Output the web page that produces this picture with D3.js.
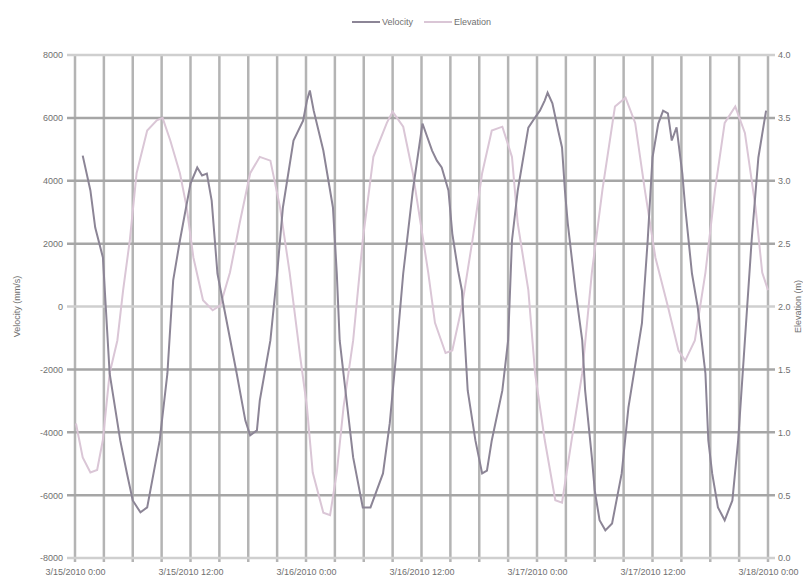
<!DOCTYPE html>
<html lang="en">
<head>
<meta charset="UTF-8">
<title>Velocity and elevation</title>
<script src="https://cdn.jsdelivr.net/npm/d3@7"></script>
<style>
  body { margin: 0; background: #fff; }
  text { font-family: "Liberation Sans", Arial, sans-serif; fill: #707070; }
</style>
</head>
<body>
<script>

// hours since start, one array per series
var velHours = [0.8, 1.6, 2.1, 2.9, 3.2, 3.6, 4.7, 5.4, 6.0, 6.8, 7.5, 8.8, 9.6, 10.2, 10.9, 12.0, 12.7, 13.2, 13.7, 14.2,
    14.8, 15.8, 16.8, 17.7, 18.2, 18.9, 19.2, 20.3, 21.0, 21.6, 22.7, 23.7, 24.1, 24.4, 24.8, 25.8, 26.8, 27.2, 27.5, 28.3,
    28.9, 29.9, 30.7, 32.0, 32.7, 33.5, 34.1, 35.1, 36.1, 37.1, 37.6, 38.1, 38.8, 39.2, 39.8, 40.2, 40.5, 40.8, 41.6, 42.3,
    42.8, 43.3, 44.4, 45.0, 45.4, 46.0, 47.1, 47.8, 48.3, 48.8, 49.1, 49.6, 50.2, 50.6, 50.9, 51.2, 52.0, 52.7, 53.0, 53.7,
    54.0, 54.5, 55.1, 55.8, 56.8, 57.5, 58.9, 59.5, 60.0, 60.6, 61.1, 61.6, 62.0, 62.5, 63.1, 63.4, 64.1, 64.7, 65.5, 65.8,
    66.2, 66.8, 67.5, 68.3, 68.9, 69.6, 70.3, 71.0, 71.8];
var velocity = [4800, 3690, 2510, 1560, -30, -2130, -4260, -5310, -6170, -6550, -6390, -4260, -2130, 830, 2100, 3910, 4420, 4170, 4230, 3370,
    1050, -540, -2130, -3630, -4100, -3940, -2990, -1080, 1050, 3150, 5280, 5910, 6550, 6870, 6230, 4960, 3150, 1050, -1080, -3210,
    -4800, -6390, -6390, -5310, -3720, -1080, 1050, 3690, 5820, 4960, 4640, 4420, 3690, 2320, 1140, 510, -1080, -2670, -4260, -5310,
    -5220, -4260, -2670, -1080, 2100, 3690, 5690, 6010, 6230, 6550, 6800, 6460, 5600, 5060, 3690, 2640, 510, -1080, -2670, -4800,
    -5850, -6800, -7120, -6900, -5310, -3210, -540, 2100, 4740, 5820, 6230, 6140, 5280, 5700, 4230, 3150, 1050, -30, -2130, -4260,
    -5310, -6390, -6800, -6170, -4260, -1080, 2100, 4740, 6230];

var elevHours = [0.1, 0.8, 1.6, 2.3, 2.9, 3.6, 4.4, 5.0, 5.7, 6.4, 7.5, 8.5, 9.1, 9.9, 10.9, 11.6, 12.3, 13.3, 14.3, 15.1,
    16.1, 17.1, 18.2, 19.2, 20.3, 21.3, 22.3, 23.4, 24.1, 24.7, 25.8, 26.5, 27.2, 27.9, 28.9, 29.9, 31.0, 32.4, 33.0, 34.1,
    35.1, 36.7, 37.4, 38.5, 39.2, 40.2, 41.3, 42.3, 43.3, 44.4, 45.4, 46.0, 47.1, 47.8, 48.8, 49.9, 50.6, 51.6, 52.7, 53.7,
    54.8, 56.1, 57.2, 58.2, 59.2, 60.3, 61.6, 62.7, 63.4, 64.4, 65.5, 66.5, 67.5, 68.6, 69.6, 70.7, 71.4, 72.0];
var elevation = [1.07, 0.80, 0.68, 0.70, 0.94, 1.47, 1.73, 2.13, 2.53, 3.06, 3.40, 3.48, 3.50, 3.32, 3.06, 2.79, 2.39, 2.05, 1.97, 2.01,
    2.27, 2.66, 3.06, 3.19, 3.16, 2.79, 2.27, 1.60, 1.20, 0.68, 0.36, 0.34, 0.68, 1.20, 1.73, 2.53, 3.19, 3.46, 3.55, 3.43,
    3.06, 2.27, 1.87, 1.63, 1.65, 2.00, 2.53, 3.06, 3.40, 3.43, 3.19, 2.66, 2.13, 1.47, 0.94, 0.46, 0.44, 0.94, 1.47, 2.27,
    2.93, 3.59, 3.66, 3.46, 2.93, 2.39, 2.00, 1.65, 1.57, 1.73, 2.27, 2.93, 3.46, 3.59, 3.38, 2.79, 2.27, 2.13];

var seriesNames = ["Velocity", "Elevation"];
var xTickHours = [0, 12, 24, 36, 48, 60, 72];
var xTickLabels = ["3/15/2010 0:00", "3/15/2010 12:00", "3/16/2010 0:00", "3/16/2010 12:00",
    "3/17/2010 0:00", "3/17/2010 12:00", "3/18/2010 0:00"];
var leftTicks = [-8000, -6000, -4000, -2000, 0, 2000, 4000, 6000, 8000];
var rightTicks = [0, 0.5, 1, 1.5, 2, 2.5, 3, 3.5, 4];

var w = 803, h = 578;
var plotLeft = 75, plotRight = 768, plotTop = 55, plotBottom = 558;

var svg = d3.select("body").append("svg").attr("width", w).attr("height", h);

var x = d3.scaleLinear().domain([0, 72]).range([plotLeft, plotRight]);
var yL = d3.scaleLinear().domain([-8000, 8000]).range([plotBottom, plotTop]);
var yR = d3.scaleLinear().domain([0, 4]).range([plotBottom, plotTop]);

// grid, vertical every 3 hours
svg.append("g").selectAll("line")
    .data(d3.range(0, 73, 3))
    .enter().append("line")
    .attr("x1", function(d) { return x(d); })
    .attr("x2", function(d) { return x(d); })
    .attr("y1", plotTop).attr("y2", plotBottom + 4)
    .attr("stroke", "#b4b4b4").attr("stroke-width", 2.5);

svg.append("g").selectAll("line")
    .data(leftTicks)
    .enter().append("line")
    .attr("x1", plotLeft - 8).attr("x2", plotRight + 7)
    .attr("y1", function(d) { return yL(d); })
    .attr("y2", function(d) { return yL(d); })
    .attr("stroke", function(d) { return (d == 0 || d == 8000 || d == -8000) ? "#cfcfcf" : "#a6a6a6"; })
    .attr("stroke-width", 2.5);

// series
var lineVel = d3.line()
    .x(function(d, i) { return x(velHours[i]); })
    .y(function(d) { return yL(d); });
var lineElev = d3.line()
    .x(function(d, i) { return x(elevHours[i]); })
    .y(function(d) { return yR(d); });

svg.append("path").datum(elevation)
    .attr("d", lineElev)
    .attr("fill", "none").attr("stroke", "#dac6d6").attr("stroke-width", 2);

svg.append("path").datum(velocity)
    .attr("d", lineVel)
    .attr("fill", "none").attr("stroke", "#8c8596").attr("stroke-width", 2);

// axes
var axL = svg.append("g").attr("transform", "translate(" + plotLeft + ",0)")
    .call(d3.axisLeft(yL).tickValues(leftTicks).tickSize(0).tickPadding(12).tickFormat(function(d) { return String(d); }));
var axR = svg.append("g").attr("transform", "translate(" + plotRight + ",0)")
    .call(d3.axisRight(yR).tickValues(rightTicks).tickSize(0).tickPadding(10).tickFormat(function(d) { return d.toFixed(1); }));
var axB = svg.append("g").attr("transform", "translate(0," + plotBottom + ")")
    .call(d3.axisBottom(x).tickValues(xTickHours).tickSize(0).tickPadding(11)
        .tickFormat(function(d, i) { return xTickLabels[i]; }));

[axL, axR, axB].forEach(function(a) {
    a.select(".domain").remove();
    a.selectAll("text").attr("font-size", "9px").attr("fill", "#707070")
        .style("font-family", "Liberation Sans, Arial, sans-serif");
});

// axis titles
svg.append("text")
    .attr("transform", "translate(20," + yL(0) + ") rotate(-90)")
    .attr("text-anchor", "middle").attr("font-size", "9px")
    .text("Velocity (mm/s)");
svg.append("text")
    .attr("transform", "translate(801," + yL(0) + ") rotate(-90)")
    .attr("text-anchor", "middle").attr("font-size", "9px")
    .text("Elevation (m)");

// legend
var legend = svg.append("g").attr("transform", "translate(352,22)");
var legendColors = ["#8c8596", "#dac6d6"];
seriesNames.forEach(function(name, i) {
    var g = legend.append("g").attr("transform", "translate(" + (i * 72) + ",0)");
    g.append("line").attr("x1", 0).attr("x2", 28).attr("y1", 0).attr("y2", 0)
        .attr("stroke", legendColors[i]).attr("stroke-width", 2);
    g.append("text").attr("x", 30).attr("y", 3).attr("font-size", "9px").text(name);
});

</script>
</body>
</html>
